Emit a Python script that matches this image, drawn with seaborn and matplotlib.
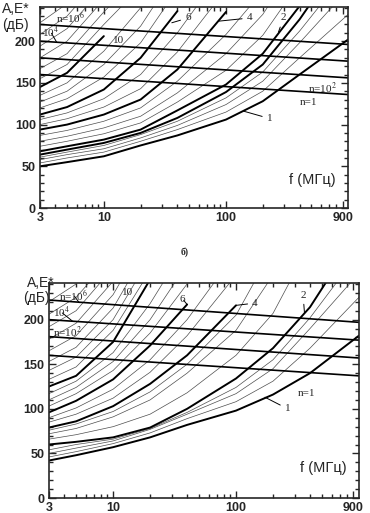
import numpy as np
import pandas as pd
import seaborn as sns
import matplotlib
matplotlib.use('Agg')
import matplotlib.pyplot as plt
from matplotlib.ticker import FixedLocator, MultipleLocator, LogLocator, NullFormatter

nan = np.nan

# frequency grid (MHz) shared by all the curves
freq = [3, 5, 10, 20, 40, 100, 200, 400, 1000]

# ---------- panel a (top) ----------
top_c1 = [50, 55, 62, 75, 87, 106, 128, 160, 202]
top_cb = [64, 70, 78, 90, 108, 139, 172, 226, 310]
top_c2 = [68, 74, 82, 94, 117, 148, 185, 242]
top_c4 = [94, 100, 112, 130, 166, 235]
top_c6 = [112, 121, 142, 180, 236]
top_c10 = [145, 162, 206]
top_thin = [
    [54, 60, 67, 80, 94, 115, 140, 180, 232],
    [58, 64, 71, 84, 99, 124, 152, 198, 262],
    [61, 67, 75, 88, 104, 132, 163, 212, 285],
    [74, 80, 89, 102, 127, 165, 207, 270],
    [80, 86, 96, 110, 138, 185, 232, 300],
    [87, 93, 104, 120, 152, 208, 260],
    [100, 107, 121, 143, 187, 262],
    [106, 114, 131, 160, 210, 290],
    [120, 131, 157, 198, 262],
    [127, 140, 172, 218, 285],
    [135, 150, 188, 240, 300],
    [155, 172, 220, 265],
    [167, 185, 235, 280],
    [180, 200, 250],
    [194, 215, 265],
    [208, 230, 280],
    [222, 245],
]
top_n_lines = [[220, 196], [200, 176], [180, 156], [160, 136]]

# ---------- panel b (bottom) ----------
bot_c1 = [42, 48, 57, 68, 82, 98, 116, 140, 182]
bot_c2 = [60, 63, 68, 79, 100, 134, 168, 214, 299]
bot_c4 = [79, 86, 103, 128, 160, 216]
bot_c6 = [96, 109, 133, 171, 217]
bot_c10 = [125, 137, 175, 245, 300]
bot_thin = [
    [46, 52, 61, 73, 89, 108, 131, 168, 225],
    [50, 56, 64, 77, 94, 117, 145, 190, 252],
    [54, 60, 66, 78, 96, 124, 155, 202, 275],
    [66, 71, 80, 94, 118, 160, 207, 285],
    [72, 78, 91, 110, 140, 188, 250],
    [76, 83, 97, 119, 150, 205, 280],
    [85, 94, 112, 141, 182, 250],
    [90, 101, 122, 155, 200, 275],
    [103, 117, 143, 185, 240],
    [110, 124, 153, 200, 262],
    [117, 131, 163, 218, 285],
    [133, 147, 188, 255],
    [143, 158, 200, 270],
    [153, 169, 213, 285],
    [165, 182, 228, 300],
    [178, 196, 243],
    [192, 210, 258],
    [206, 225, 272],
    [220, 240],
]
bot_n_lines = [[222, 197], [200, 177], [181, 157], [160, 137]]
n_line_freq = [3, 1000]

xtick_vals = [3, 10, 100, 900]
xtick_labels = ['3', '10', '100', '900']
ytick_vals = [0, 50, 100, 150, 200]

sns.set_style('ticks')
plt.rcParams['font.family'] = ['Liberation Sans', 'DejaVu Sans']
plt.rcParams['mathtext.fontset'] = 'stix'

SERIF = 'Liberation Serif'


def pad(vals):
    return list(vals) + [nan] * (len(freq) - len(vals))


def line(ax, xs, ys, color, lw):
    df = pd.DataFrame({'f': xs, 'A': ys}).dropna()
    sns.lineplot(data=df, x='f', y='A', ax=ax, color=color, lw=lw,
                 estimator=None, sort=False, legend=False)


def draw_panel(ax, bold, thin, n_lines):
    for vals in thin:
        line(ax, freq, pad(vals), '0.3', 0.5)
    for vals in bold:
        line(ax, freq, pad(vals), 'black', 1.4)
    for a, b in n_lines:
        line(ax, n_line_freq, [a, b], 'black', 1.2)

    ax.set_xscale('log')
    ax.set_xlim(3, 1000)
    ax.set_ylim(0, 241)
    ax.xaxis.set_major_locator(FixedLocator(xtick_vals))
    ax.set_xticklabels(xtick_labels)
    ax.xaxis.set_minor_locator(LogLocator(base=10, subs=np.arange(2, 10)))
    ax.xaxis.set_minor_formatter(NullFormatter())
    ax.set_yticks(ytick_vals)
    ax.yaxis.set_minor_locator(MultipleLocator(10))
    ax.tick_params(which='both', direction='in', top=True, right=True, width=1)
    ax.tick_params(which='major', length=5, labelsize=9, pad=3)
    ax.tick_params(which='minor', length=3)
    for lab in ax.get_xticklabels() + ax.get_yticklabels():
        lab.set_fontweight('bold')
    for s in ax.spines.values():
        s.set_linewidth(1.2)
    ax.set_xlabel('')
    ax.set_ylabel('')
    ax.text(0.885, 0.14, 'f (МГц)', transform=ax.transAxes, ha='center',
            va='center', fontsize=10.5)


def label(ax, txt, pos, xy=None, size=8):
    if xy is None:
        ax.text(pos[0], pos[1], txt, transform=ax.transAxes, ha='center',
                va='center', fontsize=size, family=SERIF)
    else:
        ax.annotate(txt, xy=xy, xycoords='data', xytext=pos,
                    textcoords='axes fraction', ha='center', va='center',
                    fontsize=size, family=SERIF,
                    arrowprops=dict(arrowstyle='-', lw=0.7, color='black',
                                    shrinkA=1, shrinkB=0))


fig = plt.figure(figsize=(3.70, 5.13), dpi=100)
ax1 = fig.add_axes([0.108, 0.5945, 0.833, 0.392])
ax2 = fig.add_axes([0.132, 0.0292, 0.838, 0.419])

draw_panel(ax1, [top_c1, top_cb, top_c2, top_c4, top_c6, top_c10], top_thin, top_n_lines)
draw_panel(ax2, [bot_c1, bot_c2, bot_c4, bot_c6, bot_c10], bot_thin, bot_n_lines)

# panel a labels
label(ax1, 'n=10$^{6}$', (0.10, 0.945))
label(ax1, '10$^{4}$', (0.035, 0.875), xy=(4.1, 199))
label(ax1, '10', (0.255, 0.835))
label(ax1, '6', (0.48, 0.945), xy=(36, 222))
label(ax1, '4', (0.68, 0.945), xy=(88, 224))
label(ax1, '2', (0.79, 0.945), xy=(269, 211))
label(ax1, 'n=10$^{2}$', (0.915, 0.595))
label(ax1, 'n=1', (0.87, 0.525))
label(ax1, '1', (0.745, 0.445), xy=(140, 116))

# panel b labels
label(ax2, 'n=10$^{6}$', (0.08, 0.944), xy=(5.3, 219))
label(ax2, '10$^{4}$', (0.04, 0.865), xy=(4.7, 198))
label(ax2, 'n=10$^{2}$', (0.06, 0.772))
label(ax2, '10', (0.255, 0.958), xy=(16, 222))
label(ax2, '6', (0.432, 0.925), xy=(40, 217))
label(ax2, '4', (0.665, 0.907), xy=(100, 216))
label(ax2, '2', (0.82, 0.944), xy=(361, 207))
label(ax2, 'n=1', (0.83, 0.488))
label(ax2, '1', (0.77, 0.415), xy=(172, 113))

# axis titles
fig.text(0.005, 0.982, 'A,E*', fontsize=10, ha='left', va='center')
fig.text(0.005, 0.952, '(дБ)', fontsize=10, ha='left', va='center')
fig.text(0.072, 0.449, 'A,E*', fontsize=10, ha='left', va='center')
fig.text(0.062, 0.420, '(дБ)', fontsize=10, ha='left', va='center')
fig.text(0.5, 0.509, 'б)', fontsize=7, ha='center', va='center',
         family=SERIF, fontweight='bold')

fig.savefig('out.png', dpi=100)
